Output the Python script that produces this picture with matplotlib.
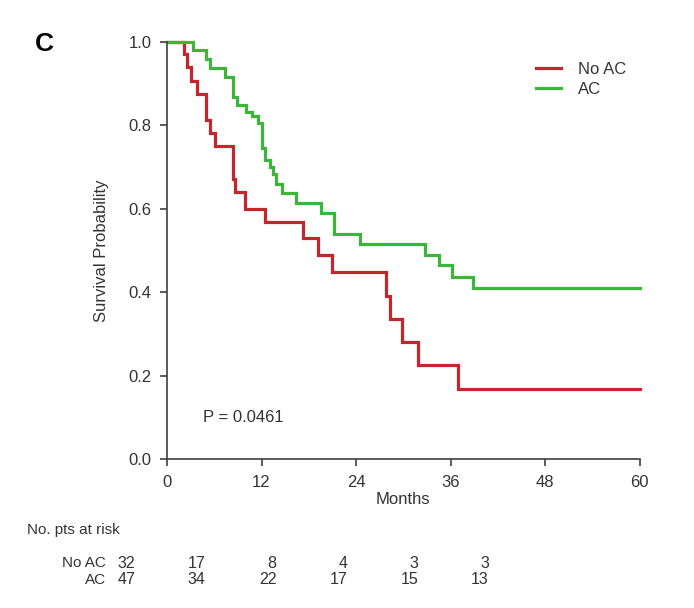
import matplotlib
matplotlib.use("Agg")
import matplotlib.pyplot as plt

plt.rcParams['font.family'] = ['Liberation Sans', 'DejaVu Sans']

# ---- data ----
months_noac = [0, 2.1, 2.5, 3.1, 3.8, 5.0, 5.4, 6.1, 8.4, 8.6, 9.9, 12.5, 17.3,
               19.2, 20.9, 27.8, 28.3, 29.9, 31.9, 36.9, 60]
surv_noac = [1.0, 0.969, 0.938, 0.906, 0.875, 0.812, 0.781, 0.750, 0.672, 0.640,
             0.600, 0.568, 0.529, 0.488, 0.449, 0.392, 0.336, 0.280, 0.225, 0.168, 0.168]

months_ac = [0, 3.3, 5.0, 5.5, 7.4, 8.4, 8.9, 10.0, 10.8, 11.5, 12.0, 12.5, 13.1,
             13.5, 13.9, 14.6, 16.4, 19.6, 21.2, 24.5, 32.8, 34.5, 36.2, 38.9, 60]
surv_ac = [1.0, 0.979, 0.957, 0.936, 0.915, 0.868, 0.848, 0.832, 0.822, 0.804,
           0.745, 0.716, 0.700, 0.684, 0.660, 0.638, 0.614, 0.589, 0.540, 0.516,
           0.489, 0.465, 0.437, 0.410, 0.410]

series_names = ["No AC", "AC"]
risk_noac = [32, 17, 8, 4, 3, 3]
risk_ac = [47, 34, 22, 17, 15, 13]
x_ticks = [0, 12, 24, 36, 48, 60]
y_ticks = [0.0, 0.2, 0.4, 0.6, 0.8, 1.0]
p_text = "P = 0.0461"

RED = "#c1272d"
GREEN = "#3cb53a"
AXC = "#404040"
TXT = "#333333"

W, H = 694, 608
fig = plt.figure(figsize=(W / 100, H / 100), dpi=100)
ax = fig.add_axes([167 / W, 1 - 459.3 / H, (639.5 - 167) / W, (459.3 - 41.5) / H])

ax.step(months_noac, surv_noac, where='post', color=RED, lw=2.3, label=series_names[0],
        solid_joinstyle='miter', clip_on=False)
ax.step(months_ac, surv_ac, where='post', color=GREEN, lw=2.3, label=series_names[1],
        solid_joinstyle='miter', clip_on=False)

ax.set_xlim(0, 60)
ax.set_ylim(0, 1.0)
ax.set_xticks(x_ticks)
ax.set_yticks(y_ticks)
ax.set_yticklabels([f"{v:.1f}" for v in y_ticks])
for s in ['top', 'right']:
    ax.spines[s].set_visible(False)
for s in ['left', 'bottom']:
    ax.spines[s].set_color(AXC)
    ax.spines[s].set_linewidth(1.2)
ax.tick_params(axis='both', direction='out', length=5, width=1.2, color=AXC,
               labelsize=12, labelcolor=TXT, pad=6)

ax.set_xlabel("Months", fontsize=12, color=TXT, labelpad=2)
ax.set_ylabel("Survival Probability", fontsize=12, color=TXT, labelpad=14)

ax.text(4.6, 0.1, p_text, fontsize=12, color=TXT, va='center', ha='left')

ax.legend(loc='upper left', bbox_to_anchor=(0.749, 0.988), frameon=False,
          fontsize=12, handlelength=1.5, handletextpad=1.0, labelspacing=0.3,
          labelcolor=TXT)

fig.text(35 / W, 1 - 44 / H, "C", fontsize=19, fontweight='bold', va='center', ha='left')

# risk table
fig.text(27 / W, 1 - 530 / H, "No. pts at risk", fontsize=11,
         va='center', ha='left', color=TXT)
row_y = [563, 580]
for name, vals, yy in zip(series_names, [risk_noac, risk_ac], row_y):
    fig.text(106 / W, 1 - yy / H, name, fontsize=11,
             va='center', ha='right', color=TXT)
    for i, v in enumerate(vals):
        fig.text((135 + i * 70.8) / W, 1 - yy / H, str(v), fontsize=11.5,
                 va='center', ha='right', color=TXT)

fig.savefig("out.png", dpi=100, facecolor='white')
